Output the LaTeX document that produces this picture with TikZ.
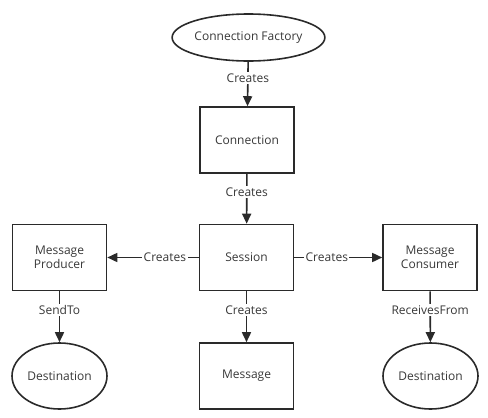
\documentclass[tikz,border=0pt]{standalone}
\usepackage{fontspec}
\setmainfont{Open Sans}
\usetikzlibrary{arrows.meta,shapes.geometric}
\definecolor{ln}{HTML}{2A2A2A}
\definecolor{tx}{HTML}{383838}
\begin{document}
\begin{tikzpicture}[x=1pt,y=-1pt,
  every node/.style={text=tx,font=\fontsize{12}{14.5}\selectfont},
  box/.style={draw=ln,line width=1.6pt,rectangle,minimum width=94pt,minimum height=66pt,inner sep=0pt,align=center},
  oval/.style={draw=ln,line width=1.6pt,ellipse,inner sep=0pt,align=center},
  conn/.style={draw=ln,line width=1.6pt,-{Triangle[width=9pt,length=10pt]}},
  lbl/.style={fill=white,inner sep=1.5pt,pos=0.37}]
\useasboundingbox (0,0) rectangle (488,418);
\node[oval,minimum width=141pt,minimum height=47pt] (cf) at (248.5,37.5) {Connection Factory};
\node[box] (conn) at (247,140) {Connection};
\node[box] (sess) at (246.5,257.5) {Session};
\node[box] (prod) at (59.5,257.5) {Message\\Producer};
\node[box] (cons) at (430,257.5) {Message\\Consumer};
\node[box] (msg) at (246.5,376) {Message};
\node[oval,minimum width=95pt,minimum height=66pt] (d1) at (59.5,376) {Destination};
\node[oval,minimum width=95pt,minimum height=66pt] (d2) at (430.5,376) {Destination};
\draw[conn] (cf) -- node[lbl] {Creates} (conn);
\draw[conn] (conn) -- node[lbl] {Creates} (sess);
\draw[conn] (sess) -- node[lbl] {Creates} (prod);
\draw[conn] (sess) -- node[lbl] {Creates} (cons);
\draw[conn] (sess) -- node[lbl] {Creates} (msg);
\draw[conn] (prod) -- node[lbl] {SendTo} (d1);
\draw[conn] (cons) -- node[lbl] {ReceivesFrom} (d2);
\end{tikzpicture}
\end{document}
